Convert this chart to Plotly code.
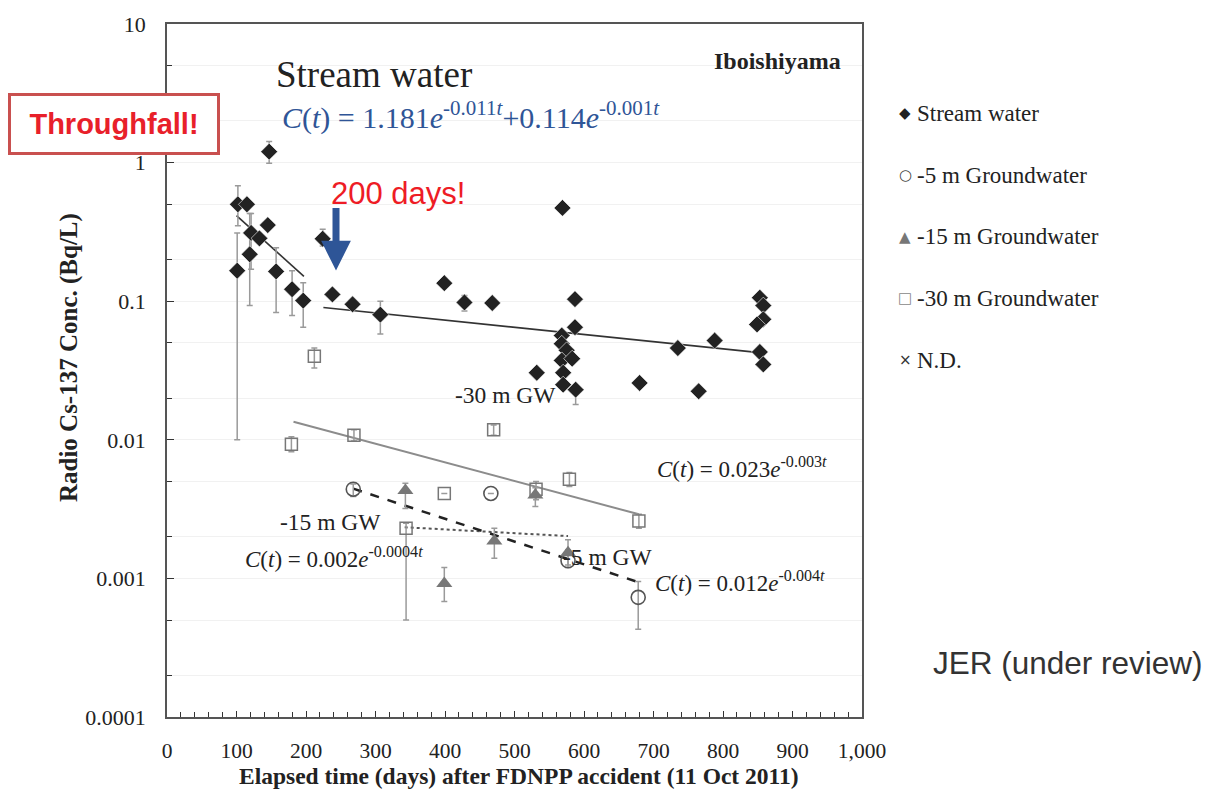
import plotly.graph_objects as go

# ---------------- data ----------------
stream_days = [101, 102, 115, 119, 121, 133, 147, 145, 157, 180, 196, 224, 238, 267, 307,
               399, 428, 468, 532, 569, 568, 568, 575, 568, 583, 570, 570, 588, 587, 587,
               680, 735, 765, 788, 853, 858, 858, 849, 853, 858]
stream_conc = [0.166, 0.50, 0.50, 0.218, 0.311, 0.284, 1.20, 0.354, 0.164, 0.122, 0.101, 0.282, 0.112, 0.095, 0.080,
               0.135, 0.098, 0.097, 0.0305, 0.471, 0.0565, 0.0493, 0.0442, 0.0374, 0.0385, 0.0305, 0.025, 0.023, 0.1035, 0.0649,
               0.0257, 0.0459, 0.0224, 0.052, 0.106, 0.093, 0.074, 0.068, 0.043, 0.035]
stream_upper = [0.31, 0.68, None, 0.43, 0.43, None, 1.42, None, 0.243, 0.166, 0.136, 0.33, None, None, 0.10,
                None, 0.11, None, None, None, None, None, None, None, None, None, None, None, None, None,
                None, None, None, None, None, None, None, None, None, None]
stream_lower = [0.010, 0.35, None, 0.093, 0.17, None, 0.99, None, 0.083, 0.079, 0.065, 0.25, None, None, 0.058,
                None, 0.085, None, None, None, None, None, None, None, None, None, None, 0.018, None, None,
                None, None, None, None, None, None, None, None, None, None]

gw30_days = [212, 179, 269, 470, 579, 399, 531, 679, 344]
gw30_conc = [0.040, 0.0093, 0.0108, 0.0118, 0.0052, 0.0041, 0.0044, 0.0026, 0.0023]
gw30_upper = [0.046, 0.0105, 0.0118, 0.0128, 0.0058, None, 0.0050, 0.0029, 0.0025]
gw30_lower = [0.033, 0.0082, 0.0098, 0.0108, 0.0046, None, 0.0037, 0.0023, 0.0005]

gw5_days = [268, 466, 577, 678]
gw5_conc = [0.0044, 0.0041, 0.00134, 0.00073]
gw5_upper = [0.0048, None, 0.0016, 0.00095]
gw5_lower = [0.0039, None, 0.0012, 0.00043]

gw15_days = [343, 471, 530, 577, 399]
gw15_conc = [0.0043, 0.00186, 0.0040, 0.00153, 0.00092]
gw15_upper = [0.00485, 0.0023, 0.0045, 0.0019, 0.0012]
gw15_lower = [0.0032, 0.0014, 0.0033, 0.00125, 0.00068]

# fitted-line end points
stream_fit1_days = [100, 197]
stream_fit1_conc = [0.415, 0.151]
stream_fit2_days = [225, 856]
stream_fit2_conc = [0.090, 0.0424]
gw30_fit_days = [182, 679]
gw30_fit_conc = [0.0135, 0.0029]
gw5_fit_days = [268, 678]
gw5_fit_conc = [0.00444, 0.00094]
gw15_fit_days = [342, 577]
gw15_fit_conc = [0.00234, 0.00202]

y_tickvals = [0.0001, 0.001, 0.01, 0.1, 1, 10]
y_ticktext = ["0.0001", "0.001", "0.01", "0.1", "1", "10"]
x_tickvals = [0, 100, 200, 300, 400, 500, 600, 700, 800, 900, 1000]
x_ticktext = ["0", "100", "200", "300", "400", "500", "600", "700", "800", "900", "1,000"]

legend_labels = ["Stream water", "-5 m Groundwater", "-15 m Groundwater", "-30 m Groundwater", "N.D."]


def errs(vals, up, low):
    plus = [(u - v) if u is not None else 0 for v, u in zip(vals, up)]
    minus = [(v - l) if l is not None else 0 for v, l in zip(vals, low)]
    return plus, minus


W, H = 1219, 790
L, R, T, B = 167, 862, 20, 717


def px(x):
    return (x - L) / (R - L)


def py(y):
    return 1 - (y - T) / (B - T)


SERIF = "Liberation Serif"
SANS = "Liberation Sans"
ERRC = "#9a9a9a"

fig = go.Figure()

# fit lines
fig.add_trace(go.Scatter(x=stream_fit1_days, y=stream_fit1_conc, mode="lines",
                         line=dict(color="#333333", width=1.6), showlegend=False, hoverinfo="skip"))
fig.add_trace(go.Scatter(x=stream_fit2_days, y=stream_fit2_conc, mode="lines",
                         line=dict(color="#333333", width=1.6), showlegend=False, hoverinfo="skip"))
fig.add_trace(go.Scatter(x=gw30_fit_days, y=gw30_fit_conc, mode="lines",
                         line=dict(color="#8c8c8c", width=2), showlegend=False, hoverinfo="skip"))
fig.add_trace(go.Scatter(x=gw15_fit_days, y=gw15_fit_conc, mode="lines",
                         line=dict(color="#555555", width=2, dash="dot"), showlegend=False, hoverinfo="skip"))
fig.add_trace(go.Scatter(x=gw5_fit_days, y=gw5_fit_conc, mode="lines",
                         line=dict(color="#222222", width=2.5, dash="dash"), showlegend=False, hoverinfo="skip"))

# -30 m
p, m = errs(gw30_conc, gw30_upper, gw30_lower)
fig.add_trace(go.Scatter(x=gw30_days, y=gw30_conc, mode="markers", name=legend_labels[3],
                         marker=dict(symbol="square-open", size=12, color="#777777", line=dict(width=1.5)),
                         error_y=dict(type="data", symmetric=False, array=p, arrayminus=m,
                                      color=ERRC, thickness=1.5, width=3)))
# -5 m
p, m = errs(gw5_conc, gw5_upper, gw5_lower)
fig.add_trace(go.Scatter(x=gw5_days, y=gw5_conc, mode="markers", name=legend_labels[1],
                         marker=dict(symbol="circle-open", size=14, color="#555555", line=dict(width=1.6)),
                         error_y=dict(type="data", symmetric=False, array=p, arrayminus=m,
                                      color=ERRC, thickness=1.5, width=3)))
# -15 m
p, m = errs(gw15_conc, gw15_upper, gw15_lower)
fig.add_trace(go.Scatter(x=gw15_days, y=gw15_conc, mode="markers", name=legend_labels[2],
                         marker=dict(symbol="triangle-up", size=14, color="#777777"),
                         error_y=dict(type="data", symmetric=False, array=p, arrayminus=m,
                                      color=ERRC, thickness=1.5, width=3)))
# stream
p, m = errs(stream_conc, stream_upper, stream_lower)
fig.add_trace(go.Scatter(x=stream_days, y=stream_conc, mode="markers", name=legend_labels[0],
                         marker=dict(symbol="diamond", size=13, color="#222222",
                                     line=dict(color="white", width=0.6)),
                         error_y=dict(type="data", symmetric=False, array=p, arrayminus=m,
                                      color=ERRC, thickness=1.5, width=3)))

fig.update_layout(
    width=W, height=H,
    margin=dict(l=L, r=W - R, t=T, b=H - B),
    paper_bgcolor="white", plot_bgcolor="white",
    showlegend=False,
    font=dict(family=SERIF, color="#222222", size=21),
)
fig.update_xaxes(range=[0, 1000], tickvals=x_tickvals, ticktext=x_ticktext,
                 ticks="inside", ticklen=6, tickcolor="#333", tickwidth=1,
                 showline=True, linecolor="#555", linewidth=1.5, mirror=True,
                 showgrid=False, zeroline=False, ticklabelstandoff=13,
                 minor=dict(dtick=20, ticks="inside", ticklen=5, tickcolor="#333", showgrid=False),
                 tickfont=dict(family=SERIF, size=21.5, color="#222"))
fig.update_yaxes(type="log", range=[-4, 1], tickvals=y_tickvals, ticktext=y_ticktext,
                 ticks="inside", ticklen=7, tickcolor="#333",
                 showline=True, linecolor="#555", linewidth=1.5, mirror=True,
                 showgrid=False, zeroline=False, ticklabelstandoff=15,
                 minor=dict(ticks="inside", ticklen=5, tickcolor="#333", showgrid=True,
                            gridcolor="#f1f1f1", gridwidth=1),
                 tickfont=dict(family=SERIF, size=22, color="#222"))

ann = []


def add(text, x, y, size, xanchor="left", color="#222222", family=SERIF, **kw):
    ann.append(dict(text=text, x=px(x), y=py(y), xref="paper", yref="paper",
                    xanchor=xanchor, yanchor="middle", showarrow=False,
                    font=dict(size=size, color=color, family=family), **kw))


add("<b>Iboishiyama</b>", 843, 57, 24, xanchor="right")
add("Stream water", 274, 71, 37)
add("<i>C</i>(<i>t</i>) = 1.181<i>e</i><sup>-0.011<i>t</i></sup>+0.114<i>e</i><sup>-0.001<i>t</i></sup>",
    280, 112, 30, color="#2F5597")
add("200 days!", 329, 190, 31, color="#EE1C25", family=SANS)
add("-30 m GW", 453, 393, 23.5)
add("<i>C</i>(<i>t</i>) = 0.023<i>e</i><sup>-0.003<i>t</i></sup>", 655, 466, 23)
add("-15 m GW", 278, 521, 23.5)
add("<i>C</i>(<i>t</i>) = 0.002<i>e</i><sup>-0.0004<i>t</i></sup>", 243, 557, 23)
add("-5 m GW", 561, 556, 23.5)
add("<i>C</i>(<i>t</i>) = 0.012<i>e</i><sup>-0.004<i>t</i></sup>", 653, 581, 23)
add("JER (under review)", 931, 663, 31.5, color="#333333", family=SANS)
add("<b>Elapsed time (days) after FDNPP accident (11 Oct 2011)</b>", 519, 776, 23.5, xanchor="center")
ann.append(dict(text="<b>Radio Cs-137 Conc. (Bq/L)</b>", x=px(69), y=py(356), xref="paper", yref="paper",
                xanchor="center", yanchor="middle", showarrow=False, textangle=-90,
                font=dict(size=25, color="#222", family=SERIF)))

# Throughfall box
ann.append(dict(text="<b>Throughfall!</b>", x=px(114), y=py(121), xref="paper", yref="paper",
                xanchor="center", yanchor="middle", showarrow=False,
                font=dict(size=29, color="#E8202A", family=SANS),
                bordercolor="#C9504F", borderwidth=3, bgcolor="white",
                width=204, height=54))

# arrow
ann.append(dict(text="", x=px(336), y=py(268), xref="paper", yref="paper",
                ax=0, ay=-64, axref="pixel", ayref="pixel", showarrow=True,
                arrowhead=2, arrowsize=0.85, arrowwidth=7, arrowcolor="#2E5597"))

# legend drawn as text rows
leg_sym = ['<span style="color:#222">◆</span>',
           '<span style="color:#444">○</span>',
           '<span style="color:#777">▲</span>',
           '<span style="color:#888">□</span>',
           '<span style="color:#333">×</span>']
leg_y = [110, 172, 234, 296, 358]
for s, lab, yy in zip(leg_sym, legend_labels, leg_y):
    ann.append(dict(text=s, x=px(905), y=py(yy), xref="paper", yref="paper",
                    xanchor="center", yanchor="middle", showarrow=False,
                    font=dict(size=15, family="DejaVu Sans")))
    add(lab, 915, yy, 23)

fig.update_layout(annotations=ann)
fig.write_html("out.html")
